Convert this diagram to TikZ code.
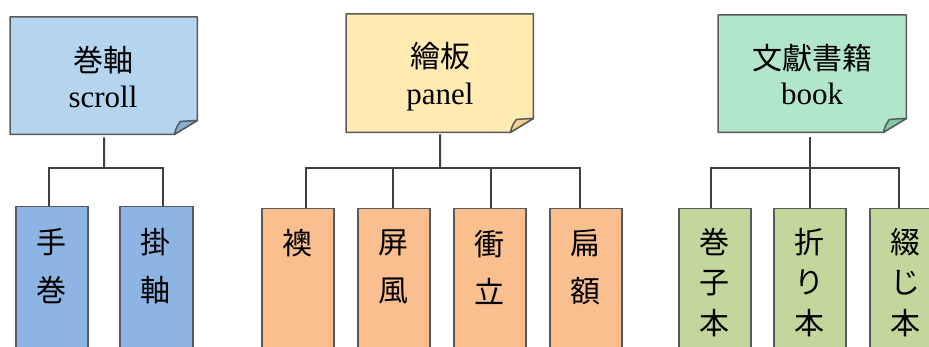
\documentclass[tikz,border=0pt]{standalone}
\usepackage{fontspec}
\setmainfont{Liberation Serif}
\newfontfamily\cjk{Noto Sans CJK JP}
\usetikzlibrary{calc}
\definecolor{boxline}{HTML}{595959}
\definecolor{connline}{HTML}{404040}
\definecolor{scrollfill}{HTML}{B5D4EE}
\definecolor{scrollflap}{HTML}{7EB1DC}
\definecolor{panelfill}{HTML}{FFEAB2}
\definecolor{panelflap}{HTML}{F3D38A}
\definecolor{bookfill}{HTML}{B2E6CA}
\definecolor{bookflap}{HTML}{80CCA1}
\definecolor{kidblue}{HTML}{8EB4E3}
\definecolor{kidorange}{HTML}{F9BF8F}
\definecolor{kidgreen}{HTML}{C3D69B}
\tikzset{
  pbox/.style={inner sep=0, minimum width=187pt, minimum height=117pt, anchor=north west},
  kid/.style={draw=boxline, line width=1.5pt, fill=#1, inner sep=0, minimum width=72pt, minimum height=170pt, anchor=north west},
  latin/.style={inner sep=0, anchor=base, font=\fontsize{31}{31}\selectfont},
  cjklbl/.style={inner sep=0, font=\cjk\fontsize{30}{30}\selectfont},
  vtwo/.style={inner sep=0, align=center, font=\cjk\fontsize{30}{48}\selectfont},
  vthree/.style={inner sep=0, align=center, font=\cjk\fontsize{30}{40.5}\selectfont},
  conn/.style={draw=connline, line width=2pt},
  outline/.style={draw=boxline, line width=1.5pt, line join=round},
}
\newcommand{\dogear}[3]{%
  \path[outline, fill=#2] (#1.north west) -- (#1.north east) -- ($(#1.south east)+(0,-14)$) -- ($(#1.south east)+(-23,0)$) -- (#1.south west) -- cycle;
  \path[outline, fill=#3] ($(#1.south east)+(-23,0)$) to[bend left=12] ($(#1.south east)+(-17,-13)$) -- ($(#1.south east)+(0,-14)$) -- cycle;
}
\begin{document}
\begin{tikzpicture}[x=1pt,y=-1pt]
\useasboundingbox (0,0) rectangle (929,347);
\clip (0,0) rectangle (929,347);

% parents
\node[pbox] (scroll) at (10,17) {};
\node[pbox, minimum height=118pt] (panel) at (346,14) {};
\node[pbox, minimum width=188pt] (book) at (718,15) {};
\dogear{scroll}{scrollfill}{scrollflap}
\dogear{panel}{panelfill}{panelflap}
\dogear{book}{bookfill}{bookflap}

\node[cjklbl] (scrollzh) at (103,60) {巻軸};
\node[latin] (scrollen) at (103,108) {scroll};
\node[cjklbl] (panelzh) at (440,56) {繪板};
\node[latin] (panelen) at (440,105) {panel};
\node[cjklbl] (bookzh) at (812,58) {文獻書籍};
\node[latin] (booken) at (812,105) {book};

% children
\node[kid=kidblue] (c11) at (15,206) {};
\node[kid=kidblue, minimum width=73pt] (c12) at (119,206) {};
\node[kid=kidorange] (c21) at (261,208) {};
\node[kid=kidorange] (c22) at (357,208) {};
\node[kid=kidorange] (c23) at (453,208) {};
\node[kid=kidorange] (c24) at (549,208) {};
\node[kid=kidgreen] (c31) at (678,208) {};
\node[kid=kidgreen] (c32) at (773,208) {};
\node[kid=kidgreen] (c33) at (869,208) {};

\node[vtwo] (t11) at (51,266) {手\\巻};
\node[vtwo] (t12) at (155.5,266) {掛\\軸};
\node[cjklbl] (t21) at (297,243) {襖};
\node[vtwo] (t22) at (393,267) {屏\\風};
\node[vtwo] (t23) at (489,267) {衝\\立};
\node[vtwo] (t24) at (585,267) {扁\\額};
\node[vthree] (t31) at (714,282.5) {巻\\子\\本};
\node[vthree] (t32) at (809,282.5) {折\\り\\本};
\node[vthree] (t33) at (905,282.5) {綴\\じ\\本};

% connectors
\coordinate (busA) at (104,168);
\coordinate (busB) at (440,168);
\coordinate (busC) at (809,168);
\draw[conn] ([yshift=-3pt,xshift=0.5pt]scroll.south) -- (busA);
\draw[conn] ([xshift=-3pt]c11.north) |- (busA) -| ([xshift=6.5pt]c12.north);
\draw[conn] ([yshift=-2pt,xshift=0.5pt]panel.south) -- (busB);
\draw[conn] ([xshift=8pt]c21.north) |- (busB) -| ([xshift=-6pt]c24.north);
\draw[conn] ([xshift=-1pt]c22.north) -- ([xshift=-1pt]c22.north |- busB);
\draw[conn] ([xshift=1pt]c23.north) -- ([xshift=1pt]c23.north |- busB);
\draw[conn] ([yshift=-5pt]c32.north |- book.south) -- (c32.north);
\draw[conn] ([xshift=-4pt]c31.north) |- (busC) -| ([xshift=-7pt]c33.north);
\end{tikzpicture}
\end{document}
